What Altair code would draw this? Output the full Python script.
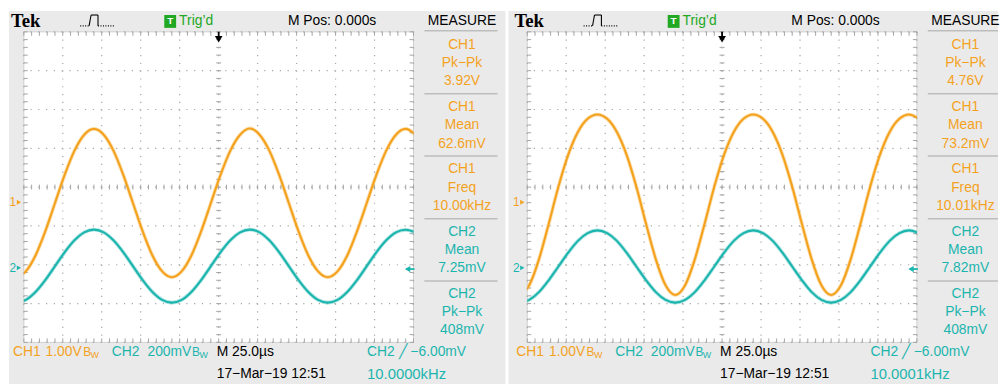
import altair as alt
import pandas as pd

# ---------------- data read from the two screen captures ----------------
# sample times (microseconds, 0 = trigger point at screen centre)
t_us = [-130.0, -123.75, -117.5, -111.25, -105.0, -98.75, -92.5, -86.25, -80.0, -73.75,
        -67.5, -61.25, -55.0, -48.75, -42.5, -36.25, -30.0, -23.75, -17.5, -11.25,
        -5.0, 1.25, 7.5, 13.75, 20.0, 26.25, 32.5, 38.75, 45.0, 51.25,
        57.5, 63.75, 70.0, 76.25, 82.5, 88.75, 95.0, 101.25, 107.5, 113.75,
        120.0, 126.25]

# left capture: CH1 (V) and CH2 (mV)
ch1_left_v = [-1.93, -1.78, -1.37, -0.75, -0.02, 0.71, 1.33, 1.74,
              1.89, 1.74, 1.33, 0.71, -0.02, -0.75, -1.37, -1.78,
              -1.93, -1.78, -1.37, -0.75, -0.02, 0.71, 1.33, 1.74,
              1.90, 1.74, 1.33, 0.71, -0.02, -0.75, -1.37, -1.78,
              -1.93, -1.78, -1.37, -0.75, -0.02, 0.71, 1.33, 1.74,
              1.89, 1.74]
ch2_left_mv = [-179, -165, -124, -63, 9, 81, 142, 183,
               197, 183, 142, 81, 9, -63, -124, -165,
               -179, -165, -124, -63, 9, 81, 142, 183,
               197, 183, 142, 81, 9, -63, -124, -165,
               -179, -165, -124, -63, 9, 81, 142, 183,
               196, 183]

# right capture: CH1 (V) and CH2 (mV)
ch1_right_v = [-2.39, -2.14, -1.47, -0.56, 0.40, 1.22, 1.81, 2.15,
               2.26, 2.15, 1.81, 1.22, 0.40, -0.56, -1.47, -2.14,
               -2.39, -2.14, -1.47, -0.56, 0.40, 1.22, 1.81, 2.15,
               2.26, 2.15, 1.81, 1.22, 0.40, -0.56, -1.47, -2.14,
               -2.39, -2.14, -1.47, -0.56, 0.40, 1.22, 1.81, 2.15,
               2.26, 2.15]
ch2_right_mv = [-179, -165, -125, -64, 7, 78, 139, 179,
                193, 179, 139, 78, 7, -64, -125, -165,
                -179, -165, -125, -64, 7, 78, 139, 179,
                193, 179, 139, 78, 7, -64, -125, -165,
                -179, -165, -125, -64, 7, 78, 139, 179,
                193, 179]

measure_channels = ["CH1", "CH1", "CH1", "CH2", "CH2"]
measure_names = ["Pk\u2212Pk", "Mean", "Freq", "Mean", "Pk\u2212Pk"]
measure_left = ["3.92V", "62.6mV", "10.00kHz", "7.25mV", "408mV"]
measure_right = ["4.76V", "73.2mV", "10.01kHz", "7.82mV", "408mV"]
trig_freq_left = "10.0000kHz"
trig_freq_right = "10.0001kHz"

CH1_VOLTS_PER_DIV = 1.0
CH2_MV_PER_DIV = 200.0
CH1_POS_DIV = -0.39
CH2_POS_DIV = -2.08
TRIG_LEVEL_MV = -6.0

# ---------------- styling / geometry ----------------
W, H = 394, 314
T_MIN, T_MAX = -125.0, 125.0
D_MIN, D_MAX = -4.0, 4.0
ORANGE = "#F4A21E"
TEAL = "#1CB5AE"
GREEN = "#23A823"
GRAY_BG = "#EAEAEA"
GRID = "#a5a5a5"
FONT = "Liberation Sans"

XS = alt.Scale(domain=[T_MIN, T_MAX], nice=False, zero=False)
YS = alt.Scale(domain=[D_MIN, D_MAX], nice=False, zero=False)


def X(px):
    return T_MIN + px * (T_MAX - T_MIN) / W


def Y(py):
    return D_MAX - py * (D_MAX - D_MIN) / H


def PY(div):
    return (D_MAX - div) * H / (D_MAX - D_MIN)


def ex(f):
    return alt.X(f, type="quantitative", scale=XS, axis=None)


def ey(f):
    return alt.Y(f, type="quantitative", scale=YS, axis=None)


def rect(x0, x1, y0, y1, **kw):
    df = pd.DataFrame({"x": [X(x0)], "x2": [X(x1)], "y": [Y(y0)], "y2": [Y(y1)]})
    return alt.Chart(df).mark_rect(**kw).encode(x=ex("x"), x2="x2", y=ey("y"), y2="y2")


def segs(rows, color, width, dash=None):
    df = pd.DataFrame({"x": [X(r[0]) for r in rows], "x2": [X(r[1]) for r in rows],
                       "y": [Y(r[2]) for r in rows], "y2": [Y(r[3]) for r in rows]})
    kw = dict(color=color, strokeWidth=width)
    if dash:
        kw["strokeDash"] = dash
    return alt.Chart(df).mark_rule(**kw).encode(x=ex("x"), x2="x2", y=ey("y"), y2="y2")


def point(px, py, shape, color, size):
    df = pd.DataFrame({"x": [X(px)], "y": [Y(py)]})
    return alt.Chart(df).mark_point(shape=shape, filled=True, color=color, size=size,
                                    opacity=1, strokeWidth=0).encode(x=ex("x"), y=ey("y"))


def texts(rows, align="left", weight="normal", font=FONT):
    df = pd.DataFrame(rows, columns=["px", "py", "text", "color", "size"])
    df["x"] = df["px"].map(X)
    df["y"] = df["py"].map(Y)
    return alt.Chart(df).mark_text(align=align, baseline="middle", font=font,
                                   fontWeight=weight).encode(
        x=ex("x"), y=ey("y"), text="text:N",
        color=alt.Color("color:N", scale=None),
        size=alt.Size("size:Q", scale=None))


def trace(vals, per_div, pos, color):
    df = pd.DataFrame({"t": t_us, "div": [v / per_div + pos for v in vals]})
    base = alt.Chart(df)
    glow = base.mark_line(clip=True, interpolate="monotone", color=color,
                          strokeWidth=3.8, opacity=0.35).encode(x=ex("t"), y=ey("div"))
    core = base.mark_line(clip=True, interpolate="monotone", color=color,
                          strokeWidth=2.1).encode(x=ex("t"), y=ey("div"))
    return [glow, core]


def panel(ch1, ch2, values, trig_freq, left_ext, right_ext):
    layers = []
    layers.append(rect(-left_ext, right_ext, -21, 356, color=GRAY_BG))
    layers.append(rect(0, W, 0, H, fill="white", stroke="#cfcfcf", strokeWidth=1))
    # dotted graticule
    gx = pd.DataFrame({"gx": [T_MIN + 25 * i for i in range(11)]})
    layers.append(alt.Chart(gx).mark_rule(color=GRID, strokeWidth=1.2,
                                          strokeDash=[1.2, 6.65]).encode(x=ex("gx")))
    gy = pd.DataFrame({"gy": [float(v) for v in range(-4, 5)]})
    layers.append(alt.Chart(gy).mark_rule(color=GRID, strokeWidth=1.2,
                                          strokeDash=[1.2, 6.68]).encode(y=ey("gy")))
    # minor ticks on centre lines and edges
    tk = []
    for i in range(-25, 26):
        px = (i * 5.0 - T_MIN) * W / (T_MAX - T_MIN)
        tk.append((px, px, H / 2 - 2.5, H / 2 + 2.5))
        tk.append((px, px, 0, 4))
        tk.append((px, px, H - 4, H))
    for j in range(-20, 21):
        py = PY(j * 0.2)
        tk.append((W / 2 - 2.5, W / 2 + 2.5, py, py))
        tk.append((0, 4, py, py))
        tk.append((W - 4, W, py, py))
    layers.append(segs(tk, GRID, 1))
    # waveforms
    layers += trace(ch1, CH1_VOLTS_PER_DIV, CH1_POS_DIV, ORANGE)
    layers += trace(ch2, CH2_MV_PER_DIV, CH2_POS_DIV, TEAL)
    # trigger position arrow (top centre)
    layers.append(segs([(W / 2, W / 2, 0, 6)], "black", 1.8))
    layers.append(point(W / 2, 7.5, "triangle-down", "black", 60))
    # channel ground markers
    layers.append(point(-5, PY(CH1_POS_DIV), "triangle-right", ORANGE, 24))
    layers.append(point(-5, PY(CH2_POS_DIV), "triangle-right", TEAL, 24))
    # trigger level marker on right edge
    trig_py = PY(TRIG_LEVEL_MV / CH2_MV_PER_DIV + CH2_POS_DIV)
    layers.append(segs([(387, 395, trig_py, trig_py)], TEAL, 1.8))
    layers.append(point(388, trig_py, "triangle-left", TEAL, 40))
    # green trigger box
    layers.append(rect(142, 154, -17, -4, color=GREEN))
    layers.append(texts([(148, -10.5, "T", "white", 10)], align="center", weight="bold"))
    # pulse icon
    layers.append(segs([(66, 68, -6, -17), (68, 75, -17, -17), (75, 75, -17, -6)], "black", 1.1))
    layers.append(segs([(57, 66, -6, -6), (75, 91, -6, -6)], "black", 1.1, dash=[1, 1.5]))
    # Tek logo
    layers.append(texts([(-13, -11, "Tek", "black", 19)], weight="bold", font="Liberation Serif"))
    # separators of measurement column
    sx1 = min(479, right_ext)
    layers.append(segs([(405, sx1, y, y) for y in [-1, 62.5, 125.5, 189, 252]], "#bdbdbd", 1.5))
    # left aligned labels
    rows = [
        (157, -11, "Trig\u2019d", GREEN, 14),
        (267, -11, "M Pos: 0.000s", "black", 14),
        (-11, 324, "CH1", ORANGE, 14),
        (22, 324, "1.00V", ORANGE, 14),
        (89, 324, "CH2", TEAL, 14),
        (125, 324, "200mV", TEAL, 14),
        (195, 324, "M 25.0\u00b5s", "black", 14),
        (347, 324, "CH2 \u2571 \u22126.00mV", TEAL, 14),
        (195, 346, "17\u2212Mar\u221219 12:51", "black", 14),
        (347, 346, trig_freq, TEAL, 15),
        (-14.5, PY(CH1_POS_DIV), "1", ORANGE, 12),
        (-14.5, PY(CH2_POS_DIV), "2", TEAL, 12),
        (60, 324, "B", ORANGE, 12),
        (67.5, 327, "W", ORANGE, 9),
        (170, 324, "B", TEAL, 12),
        (177.5, 327, "W", TEAL, 9),
    ]
    layers.append(texts(rows))
    # centred labels
    crow = [(443, -11, "MEASURE", "black", 14)]
    for g in range(5):
        col = ORANGE if measure_channels[g] == "CH1" else TEAL
        crow.append((443, 13 + 63 * g, measure_channels[g], col, 14))
        crow.append((443, 31.5 + 63 * g, measure_names[g], col, 14))
        crow.append((443, 50 + 63 * g, values[g], col, 14))
    layers.append(texts(crow, align="center"))
    return alt.layer(*layers).properties(width=W, height=H)


left = panel(ch1_left_v, ch2_left_mv, measure_left, trig_freq_left, 15, 487)
right = panel(ch1_right_v, ch2_right_mv, measure_right, trig_freq_right, 19, 476)

chart = alt.hconcat(left, right, spacing=3).properties(
    padding=0, background="white"
).configure_view(stroke=None)

chart.save("out.html", embed_options={"renderer": "svg", "actions": False})
